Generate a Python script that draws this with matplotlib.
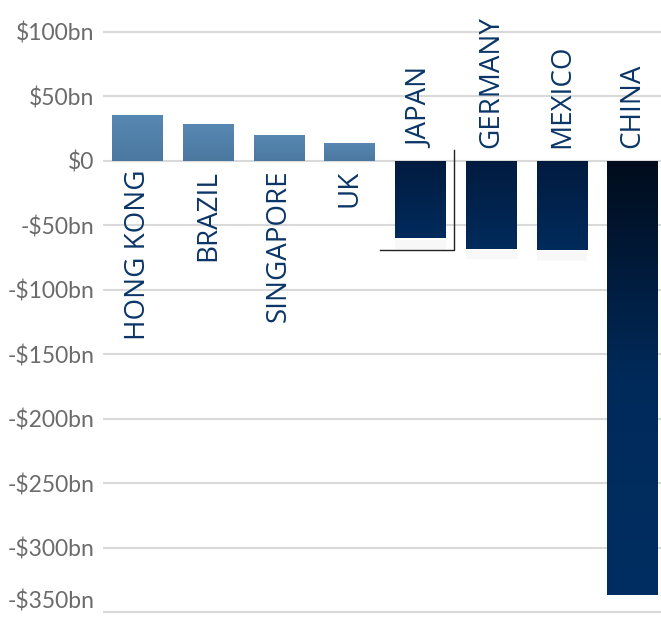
import numpy as np
import matplotlib.pyplot as plt
from matplotlib.colors import LinearSegmentedColormap

countries = ['HONG KONG', 'BRAZIL', 'SINGAPORE', 'UK',
             'JAPAN', 'GERMANY', 'MEXICO', 'CHINA']
balance = [35.7, 28.7, 20.2, 14.0, -60.2, -68.0, -68.8, -337.0]
yticks = [100, 50, 0, -50, -100, -150, -200, -250, -300, -350]
ytick_labels = ['$100bn', '$50bn', '$0', '-$50bn', '-$100bn', '-$150bn',
                '-$200bn', '-$250bn', '-$300bn', '-$350bn']

pos_cmap = LinearSegmentedColormap.from_list('pos', ['#5788b3', '#4b789f'])
neg_cmap = LinearSegmentedColormap.from_list('neg', ['#021b3f', '#002b5c'])
china_cmap = LinearSegmentedColormap.from_list('china', ['#000c1c', '#002a5a', '#002e62'])

fig = plt.figure(figsize=(6.61, 6.19), dpi=100)
W, H = 661, 619
ax = fig.add_axes([103 / W, (619 - 614.6) / H, (661 - 103) / W, (614.6 - 29.4) / H])
ax.set_ylim(-352, 102)
ax.set_xlim(-0.49, 7.4)

for y in yticks:
    ax.axhline(y, color='#d9d9d9', lw=1.5, zorder=0)

x = np.arange(len(countries))
width = 0.72
bars = ax.bar(x, balance, width=width, color='none', zorder=2)
grad = np.linspace(0, 1, 256).reshape(-1, 1)
for xi, v, b in zip(x, balance, bars):
    if v > 0:
        cmap = pos_cmap
        extent = (xi - width / 2, xi + width / 2, 0, v)
    else:
        cmap = china_cmap if v < -200 else neg_cmap
        extent = (xi - width / 2, xi + width / 2, v, 0)
        # faint reflection under the bar
        if v > -200:
            ax.bar(xi, -7, bottom=v - 1.5, width=width, color='#f8f8f8', zorder=1)
    im = ax.imshow(grad, cmap=cmap, extent=extent, aspect='auto',
                   origin='upper', zorder=2)
    im.set_clip_path(b)
    if v > 0:
        ax.text(xi, -7, countries[xi], rotation=90, ha='center', va='top',
                color='#0a3566', fontsize=20, family='Open Sans', zorder=3)
    else:
        ax.text(xi, 10, countries[xi], rotation=90, ha='center', va='bottom',
                color='#0a3566', fontsize=20, family='Open Sans', zorder=3)

# selection outline around Japan
jx = 4
ax.plot([jx - 0.57, jx + 0.47, jx + 0.47], [-69, -69, 8.5], color='#222222', lw=1.0, zorder=4)

ax.set_xticks([])
ax.set_yticks(yticks)
ax.set_yticklabels(ytick_labels, family='Lato', fontsize=16.5, color='#6b6b6b')
ax.get_yticklabels()[-1].set_verticalalignment('bottom')
ax.tick_params(axis='y', length=0, pad=6)
for s in ax.spines.values():
    s.set_visible(False)
ax.set_facecolor('white')

fig.savefig('out.png', dpi=100)
